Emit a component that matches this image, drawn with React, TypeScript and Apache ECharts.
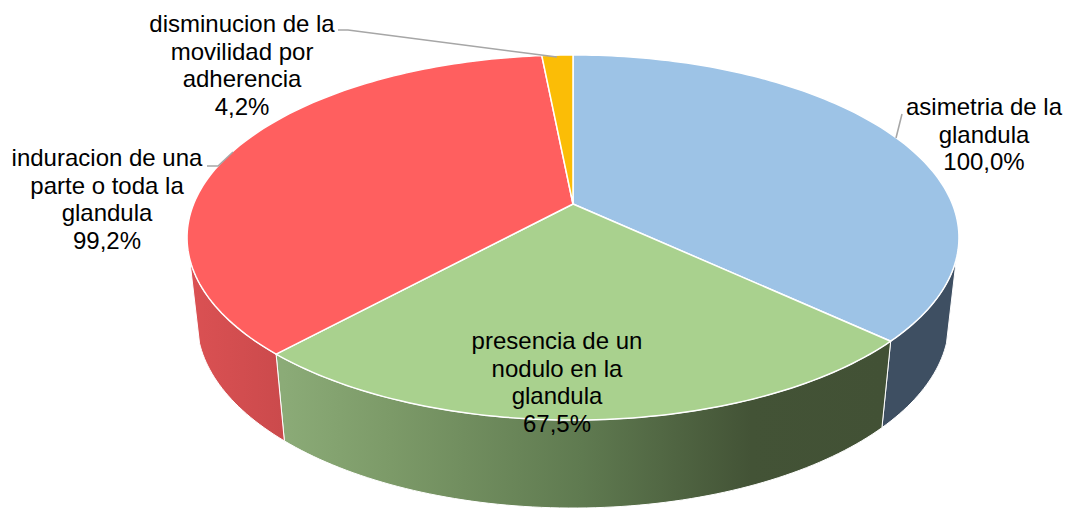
import React, { useEffect, useRef } from "react";
import * as echarts from "echarts";

const categories = [
  "asimetria de la\nglandula",
  "presencia de un\nnodulo en la\nglandula",
  "induracion de una\nparte o toda la\nglandula",
  "disminucion de la\nmovilidad por\nadherencia",
];
const values = [100.0, 67.5, 99.2, 4.2];

const topColors = ["#9DC3E6", "#A9D18E", "#FF5F5F", "#FBBD06"];
const labelCenters = [
  [984, 134],
  [557, 382],
  [107, 199],
  [242, 65],
];
const leaders = [
  [[896, 138], [902, 114]],
  [],
  [[207, 166], [218, 166], [233, 152]],
  [[338, 30], [348, 30], [557, 57]],
];

const total = values.reduce((a, b) => a + b, 0);
const starts: number[] = [];
values.reduce((acc, v, i) => {
  starts[i] = (acc / total) * Math.PI * 2;
  return acc + v;
}, 0);

const CX = 573;
// projective mapping of the pie's disc to screen (perspective)
const topPlane = { k: 0.1836, A: 379.4, B: 176.4, y0: 204 };
const botPlane = { k: 0.18, A: 370, B: 181, y0: 287.3 };
// the visible front of the side wall runs between the silhouette tangents
const FRONT_START = (107 * Math.PI) / 180;
const FRONT_END = (253 * Math.PI) / 180;

function project(p: typeof topPlane, theta: number): [number, number] {
  const u = Math.sin(theta);
  const v = -Math.cos(theta);
  const w = 1 - p.k * v;
  return [CX + (p.A * u) / w, p.y0 + (p.B * v) / w];
}

function arc(p: typeof topPlane, a: number, b: number): [number, number][] {
  const n = Math.max(2, Math.ceil(Math.abs(b - a) / 0.02));
  const pts: [number, number][] = [];
  for (let i = 0; i <= n; i++) pts.push(project(p, a + ((b - a) * i) / n));
  return pts;
}

const span = (i: number) => (values[i] / total) * Math.PI * 2;

const wallFills = () => [
  "#3E4F62",
  new echarts.graphic.LinearGradient(
    283, 0, 883, 0,
    [
      { offset: 0, color: "#8BAB77" },
      { offset: 0.18, color: "#7C9A68" },
      { offset: 0.5, color: "#5F7A50" },
      { offset: 0.78, color: "#435336" },
      { offset: 1, color: "#425135" },
    ],
    true
  ),
  new echarts.graphic.LinearGradient(
    188, 0, 283, 0,
    [
      { offset: 0, color: "#DB5153" },
      { offset: 1, color: "#CB4A4C" },
    ],
    true
  ),
  "#BF9000",
];

export default function App() {
  const ref = useRef<HTMLDivElement>(null);
  useEffect(() => {
    const chart = echarts.init(ref.current!, null, { renderer: "svg" });
    const fills = wallFills();
    chart.setOption({
      animation: false,
      backgroundColor: "#ffffff",
      series: [
        {
          type: "custom",
          coordinateSystem: "none",
          z: 1,
          silent: true,
          data: values,
          renderItem: (params: any) => {
            const i = params.dataIndex;
            const a = Math.max(starts[i], FRONT_START);
            const b = Math.min(starts[i] + span(i), FRONT_END);
            if (b <= a) return { type: "group", children: [] };
            const pts = [...arc(topPlane, a, b), ...arc(botPlane, b, a)];
            return {
              type: "polygon",
              shape: { points: pts },
              style: { fill: fills[i], stroke: "#ffffff", lineWidth: 1 },
            };
          },
        },
        {
          type: "custom",
          coordinateSystem: "none",
          z: 2,
          silent: true,
          data: values,
          renderItem: (params: any) => {
            const i = params.dataIndex;
            const a = starts[i];
            const b = a + span(i);
            const pts = [[CX, topPlane.y0], ...arc(topPlane, a, b)];
            return {
              type: "polygon",
              shape: { points: pts },
              style: { fill: topColors[i], stroke: "#ffffff", lineWidth: 1.5, lineJoin: "round" },
            };
          },
        },
        {
          type: "custom",
          coordinateSystem: "none",
          z: 3,
          silent: true,
          data: values,
          renderItem: (params: any, api: any) => {
            const i = params.dataIndex;
            const pct = api.value(0).toFixed(1).replace(".", ",") + "%";
            const children: any[] = [];
            if (leaders[i].length) {
              children.push({
                type: "polyline",
                shape: { points: leaders[i] },
                style: { fill: "none", stroke: "#A6A6A6", lineWidth: 1.5 },
              });
            }
            children.push({
              type: "text",
              x: labelCenters[i][0],
              y: labelCenters[i][1],
              style: {
                text: categories[i] + "\n" + pct,
                fill: "#000000",
                font: '24px "Liberation Sans", Arial, sans-serif',
                lineHeight: 27.4,
                align: "center",
                verticalAlign: "middle",
              },
            });
            return { type: "group", children };
          },
        },
      ],
    });
    return () => chart.dispose();
  }, []);
  return (
    <div
      ref={ref}
      style={{ position: "absolute", left: 0, top: 0, width: 1066, height: 510 }}
    />
  );
}
